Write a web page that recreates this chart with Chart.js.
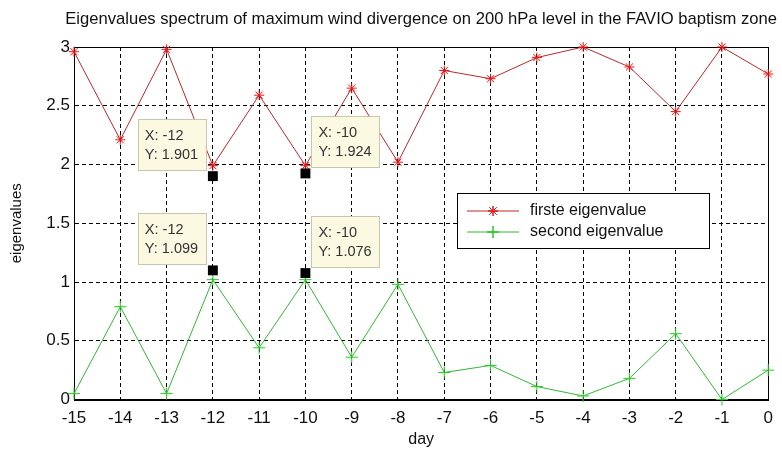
<!DOCTYPE html>
<html>
<head>
<meta charset="utf-8">
<script src="https://cdn.jsdelivr.net/npm/chart.js@4.4.0/dist/chart.umd.min.js"></script>
<style>
  html, body { margin: 0; padding: 0; background: #fff; }
  #wrap { width: 782px; height: 449px; }
</style>
</head>
<body>
<div id="wrap"><canvas id="chart" width="782" height="449"></canvas></div>
<script>
// days before the event
const days = ['-15', '-14', '-13', '-12', '-11', '-10', '-9', '-8', '-7', '-6', '-5', '-4', '-3', '-2', '-1', '0'];
// values
const firstEigen = [2.96, 2.21, 2.98, 1.99, 2.59, 1.99, 2.65, 2.02, 2.80, 2.73, 2.91, 3.00, 2.83, 2.45, 3.00, 2.77];
const secondEigen = [0.05, 0.79, 0.05, 1.02, 0.44, 1.02, 0.36, 0.98, 0.23, 0.29, 0.11, 0.03, 0.18, 0.56, 0.00, 0.25];
// MATLAB data tips
const tipDays = ['-12', '-10', '-12', '-10'];
const tipValues = [1.901, 1.924, 1.099, 1.076];
const yTicks = [0, 0.5, 1, 1.5, 2, 2.5, 3];

const titleText = 'Eigenvalues spectrum of maximum wind divergence on 200 hPa level in the FAVIO baptism zone';
const FONT = "'Liberation Sans', Arial, sans-serif";

// marco completo del eje, como en MATLAB
const boxFrame = {
  id: 'boxFrame',
  beforeDatasetsDraw(chart) {
    const { ctx, chartArea: a } = chart;
    ctx.save();
    ctx.strokeStyle = '#000';
    ctx.lineWidth = 1;
    ctx.strokeRect(Math.round(a.left) + 0.5, Math.round(a.top) + 0.5,
      Math.round(a.right - a.left), Math.round(a.bottom - a.top));
    ctx.restore();
  }
};

// titulo centrado sobre el area del grafico
const axesTitle = {
  id: 'axesTitle',
  afterDraw(chart) {
    const { ctx, chartArea: a } = chart;
    ctx.save();
    ctx.font = '16.6px ' + FONT;
    ctx.fillStyle = '#111';
    ctx.textAlign = 'center';
    ctx.textBaseline = 'middle';
    ctx.fillText(titleText, (a.left + a.right) / 2, 19);
    ctx.restore();
  }
};

// cajas de datatips
const dataTips = {
  id: 'dataTips',
  afterDatasetsDraw(chart) {
    const ctx = chart.ctx;
    const meta = chart.getDatasetMeta(2);
    const sides = ['left', 'right', 'left', 'right'];
    const w = 68, h = 51;
    ctx.save();
    meta.data.forEach((pt, i) => {
      const x0 = sides[i] === 'left' ? pt.x - 7 - w : pt.x + 6;
      const y0 = pt.y - 6 - h;
      ctx.fillStyle = '#fbf9e2';
      ctx.fillRect(x0, y0, w, h);
      ctx.strokeStyle = '#c9c6ac';
      ctx.lineWidth = 1;
      ctx.strokeRect(Math.round(x0) + 0.5, Math.round(y0) + 0.5, w, h);
      ctx.fillStyle = '#333';
      ctx.font = '14.5px ' + FONT;
      ctx.textAlign = 'left';
      ctx.textBaseline = 'middle';
      ctx.fillText('X: ' + tipDays[i], x0 + 7, y0 + 17);
      ctx.fillText('Y: ' + tipValues[i].toFixed(3), x0 + 7, y0 + 36);
    });
    ctx.restore();
  }
};

// leyenda dentro del area
const boxLegend = {
  id: 'boxLegend',
  afterDraw(chart) {
    const { ctx, chartArea: a } = chart;
    const left = a.left + 383, top = a.top + 146, w = 252, h = 55;
    ctx.save();
    ctx.fillStyle = '#fff';
    ctx.fillRect(left, top, w, h);
    ctx.strokeStyle = '#000';
    ctx.lineWidth = 1;
    ctx.strokeRect(left + 0.5, top + 0.5, w, h);
    [0, 1].forEach((di, k) => {
      const ds = chart.data.datasets[di];
      const y = top + 18 + k * 21;
      ctx.strokeStyle = ds.borderColor;
      ctx.lineWidth = 1;
      ctx.beginPath();
      ctx.moveTo(left + 10, y);
      ctx.lineTo(left + 62, y);
      ctx.stroke();
      Chart.helpers.drawPoint(ctx, {
        pointStyle: ds.pointStyle, radius: ds.pointRadius, borderWidth: 1
      }, left + 36, y);
      ctx.strokeStyle = ds.pointBorderColor;
      ctx.stroke();
      ctx.fillStyle = '#111';
      ctx.font = '16px ' + FONT;
      ctx.textAlign = 'left';
      ctx.textBaseline = 'middle';
      ctx.fillText(ds.label, left + 73, y);
    });
    ctx.restore();
  }
};

new Chart(document.getElementById('chart'), {
  type: 'line',
  data: {
    labels: days,
    datasets: [
      {
        label: 'firste eigenvalue',
        data: firstEigen,
        borderColor: '#b8282c',
        borderWidth: 1,
        pointStyle: 'star',
        pointRadius: 5,
        pointBorderColor: '#ee1111',
        pointBackgroundColor: '#ee1111',
        pointBorderWidth: 1,
        tension: 0,
        clip: false,
        order: 1
      },
      {
        label: 'second eigenvalue',
        data: secondEigen,
        borderColor: '#33b633',
        borderWidth: 1,
        pointStyle: 'cross',
        pointRadius: 6,
        pointBorderColor: '#22cc22',
        pointBackgroundColor: '#22cc22',
        pointBorderWidth: 1,
        tension: 0,
        clip: false,
        order: 2
      },
      {
        label: 'datatips',
        data: tipDays.map((d, i) => ({ x: d, y: tipValues[i] })),
        showLine: false,
        pointStyle: 'rect',
        pointRadius: 7,
        pointBackgroundColor: '#000',
        pointBorderColor: '#000',
        pointBorderWidth: 0,
        clip: false,
        order: 0
      }
    ]
  },
  options: {
    responsive: false,
    animation: false,
    layout: {
      autoPadding: false,
      padding: { top: 47, right: 11, left: 0, bottom: 0 }
    },
    plugins: {
      legend: { display: false },
      tooltip: { enabled: false },
      title: { display: false }
    },
    scales: {
      x: {
        type: 'category',
        offset: false,
        grid: { color: '#000', lineWidth: 1, drawTicks: false },
        border: { display: true, color: '#000', dash: [4, 3] },
        ticks: {
          color: '#111',
          font: { size: 17, family: FONT },
          padding: 9,
          maxRotation: 0,
          autoSkip: false
        },
        title: {
          display: true,
          text: 'day',
          color: '#111',
          font: { size: 16, family: FONT },
          padding: { top: 0, bottom: 0 }
        },
        afterFit(scale) { scale.height = 49.5; }
      },
      y: {
        min: 0,
        max: 3,
        afterBuildTicks(scale) { scale.ticks = yTicks.map(v => ({ value: v })); },
        grid: { color: '#000', lineWidth: 1, drawTicks: false },
        border: { display: true, color: '#000', dash: [4, 3] },
        ticks: {
          color: '#111',
          font: { size: 17, family: FONT },
          padding: 4,
          callback: v => String(v)
        },
        title: {
          display: true,
          text: 'eigenvalues',
          color: '#111',
          font: { size: 15, family: FONT },
          padding: { top: 8, bottom: 0 }
        },
        afterFit(scale) { scale.width = 74; }
      }
    }
  },
  plugins: [boxFrame, dataTips, boxLegend, axesTitle]
});
</script>
</body>
</html>
